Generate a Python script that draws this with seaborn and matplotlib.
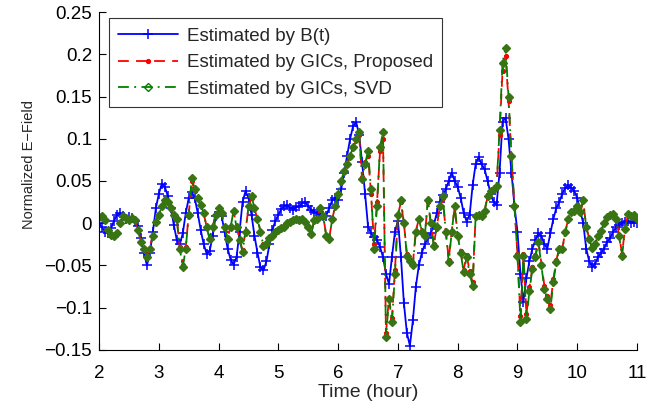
import numpy as np
import pandas as pd
import matplotlib
matplotlib.use("Agg")
import matplotlib.pyplot as plt
import seaborn as sns

# ---- data ----
time_hours = [round(2.0 + 0.05 * i, 2) for i in range(181)]

blue_bt = [
    0.000, -0.005, -0.010, -0.012, -0.006, 0.003, 0.010, 0.012, 0.008, 0.005,
    0.007, 0.006, 0.003, -0.003, -0.018, -0.035, -0.050, -0.035, -0.010, 0.018,
    0.035, 0.047, 0.043, 0.032, 0.018, -0.002, -0.020, -0.025, -0.012, 0.012,
    0.030, 0.037, 0.030, 0.012, -0.008, -0.025, -0.036, -0.033, -0.015, 0.008,
    0.013, 0.008, -0.010, -0.030, -0.043, -0.049, -0.040, -0.010, 0.025, 0.038,
    0.030, 0.010, -0.015, -0.035, -0.052, -0.056, -0.045, -0.025, -0.008, 0.003,
    0.010, 0.017, 0.020, 0.021, 0.018, 0.016, 0.019, 0.020, 0.024, 0.025,
    0.020, 0.016, 0.013, 0.012, 0.010, 0.008, 0.009, 0.018, 0.027, 0.030,
    0.028, 0.040, 0.060, 0.080, 0.100, 0.115, 0.120, 0.105, 0.072, 0.035,
    -0.004, -0.012, -0.016, -0.020, -0.028, -0.040, -0.060, -0.072, -0.040, -0.010,
    0.003, -0.040, -0.095, -0.130, -0.145, -0.115, -0.075, -0.050, -0.035, -0.025,
    -0.018, -0.012, -0.002, 0.012, 0.025, 0.033, 0.040, 0.050, 0.060, 0.050,
    0.043, 0.030, 0.012, 0.002, 0.010, 0.045, 0.070, 0.078, 0.070, 0.064,
    0.050, 0.035, 0.025, 0.022, 0.060, 0.120, 0.125, 0.100, 0.060, 0.020,
    -0.010, -0.060, -0.093, -0.065, -0.045, -0.030, -0.020, -0.012, -0.015, -0.025,
    -0.030, -0.012, 0.005, 0.018, 0.025, 0.035, 0.042, 0.045, 0.042, 0.038,
    0.030, 0.015, 0.000, -0.030, -0.045, -0.052, -0.048, -0.040, -0.035, -0.030,
    -0.022, -0.018, -0.010, -0.005, -0.002, 0.000, 0.002, 0.003, 0.000, 0.002,
    0.000,
]

green_svd = [
    0.007, 0.008, 0.004, -0.008, -0.014, -0.015, -0.012, 0.000, 0.008, 0.006,
    0.004, 0.006, 0.004, -0.008, -0.022, -0.030, -0.040, -0.030, -0.015, 0.002,
    0.010, 0.020, 0.028, 0.025, 0.018, 0.010, 0.005, -0.030, -0.052, -0.030,
    0.010, 0.054, 0.040, 0.030, 0.022, 0.012, -0.005, -0.019, -0.005, 0.010,
    0.018, 0.012, -0.005, -0.019, -0.005, 0.015, -0.005, -0.020, -0.034, -0.010,
    0.020, 0.032, 0.018, 0.005, -0.010, -0.027, -0.025, -0.018, -0.015, -0.010,
    -0.008, -0.006, -0.004, 0.000, 0.002, 0.004, 0.005, 0.004, 0.005, 0.002,
    -0.005, -0.013, 0.004, 0.005, 0.018, 0.008, -0.015, -0.019, 0.005, 0.020,
    0.035, 0.050, 0.062, 0.070, 0.080, 0.090, 0.100, 0.108, 0.052, 0.070,
    0.085, 0.040, -0.030, 0.020, 0.090, 0.108, -0.135, -0.090, -0.117, -0.060,
    0.010, 0.028, 0.000, -0.039, -0.045, -0.050, -0.010, 0.005, -0.010, -0.015,
    0.028, 0.000, -0.027, -0.005, 0.020, 0.032, -0.010, -0.046, -0.010, 0.020,
    -0.015, -0.035, -0.058, -0.040, -0.060, -0.074, 0.008, 0.010, 0.008, 0.015,
    0.032, 0.038, 0.040, 0.044, 0.110, 0.190, 0.208, 0.150, 0.080, 0.020,
    -0.039, -0.117, -0.039, -0.114, -0.080, -0.054, -0.040, -0.022, -0.050, -0.078,
    -0.090, -0.102, -0.070, -0.046, -0.030, -0.031, -0.011, 0.005, 0.013, 0.015,
    0.020, 0.013, 0.028, -0.005, -0.019, -0.029, -0.025, -0.015, -0.009, 0.000,
    0.007, 0.010, 0.011, 0.005, -0.015, -0.039, -0.007, 0.011, 0.008, 0.010,
    0.005,
]

red_proposed = [
    0.006, 0.007, 0.003, -0.007, -0.013, -0.014, -0.011, 0.001, 0.007, 0.006,
    0.004, 0.005, 0.003, -0.007, -0.021, -0.029, -0.038, -0.029, -0.014, 0.003,
    0.011, 0.020, 0.027, 0.024, 0.017, 0.009, 0.004, -0.028, -0.049, -0.028,
    0.011, 0.050, 0.038, 0.029, 0.021, 0.011, -0.004, -0.018, -0.004, 0.010,
    0.017, 0.011, -0.004, -0.018, -0.004, 0.014, -0.004, -0.019, -0.032, -0.009,
    0.019, 0.030, 0.017, 0.005, -0.009, -0.025, -0.023, -0.017, -0.014, -0.009,
    -0.007, -0.005, -0.003, 0.001, 0.003, 0.004, 0.005, 0.004, 0.005, 0.002,
    -0.004, -0.012, 0.004, 0.005, 0.017, 0.008, -0.014, -0.018, 0.005, 0.020,
    0.034, 0.049, 0.061, 0.069, 0.079, 0.089, 0.098, 0.104, 0.055, 0.072,
    0.080, 0.035, -0.025, 0.025, 0.085, 0.100, -0.130, -0.088, -0.112, -0.055,
    0.010, 0.025, 0.000, -0.036, -0.043, -0.047, -0.009, 0.005, -0.009, -0.014,
    0.025, 0.000, -0.025, -0.004, 0.019, 0.030, -0.009, -0.043, -0.009, 0.019,
    -0.014, -0.033, -0.055, -0.038, -0.057, -0.070, 0.008, 0.010, 0.008, 0.015,
    0.031, 0.037, 0.039, 0.043, 0.105, 0.180, 0.198, 0.145, 0.078, 0.019,
    -0.037, -0.110, -0.037, -0.108, -0.076, -0.052, -0.038, -0.021, -0.048, -0.074,
    -0.086, -0.097, -0.066, -0.044, -0.029, -0.030, -0.010, 0.005, 0.012, 0.014,
    0.019, 0.012, 0.026, -0.004, -0.018, -0.027, -0.024, -0.014, -0.008, 0.000,
    0.007, 0.009, 0.010, 0.005, -0.014, -0.036, -0.006, 0.010, 0.008, 0.009,
    0.005,
]

x_ticks = [2, 3, 4, 5, 6, 7, 8, 9, 10, 11]
y_ticks = [-0.15, -0.1, -0.05, 0, 0.05, 0.1, 0.15, 0.2, 0.25]
y_tick_labels = ["\u22120.15", "\u22120.1", "\u22120.05", "0", "0.05", "0.1", "0.15", "0.2", "0.25"]

sns.set_style("white")
plt.rcParams["font.family"] = ["Liberation Sans", "DejaVu Sans"]

fig = plt.figure(figsize=(6.52, 4.04), dpi=100)
ax = fig.add_axes([0.152, 0.134, 0.825, 0.836])

BLUE = (0, 0, 1)
RED = (1, 0, 0)
GREEN = (0.0, 0.5, 0.0)
GREEN_FACE = (0.22, 0.45, 0.08)

sns.lineplot(x=time_hours, y=blue_bt, ax=ax, sort=False, estimator=None,
             color=BLUE, linewidth=1.3, marker="+", markersize=7,
             markeredgewidth=1.1, markeredgecolor=BLUE, markerfacecolor=BLUE,
             label="Estimated by B(t)")
sns.lineplot(x=time_hours, y=red_proposed, ax=ax, sort=False, estimator=None,
             color=RED, linewidth=1.3, linestyle=(0, (6, 4)), marker=".",
             markersize=6, markeredgecolor=RED, markerfacecolor=RED,
             label="Estimated by GICs, Proposed")
sns.lineplot(x=time_hours, y=green_svd, ax=ax, sort=False, estimator=None,
             color=GREEN, linewidth=1.3, linestyle=(0, (6, 3, 1, 3)),
             marker="D", markersize=4.5, markerfacecolor=GREEN_FACE,
             markeredgecolor=GREEN_FACE, markeredgewidth=1.0,
             label="Estimated by GICs, SVD")

ax.set_xlim(2, 11)
ax.set_ylim(-0.15, 0.25)
ax.set_xticks(x_ticks)
ax.set_xticklabels([str(t) for t in x_ticks])
ax.set_yticks(y_ticks)
ax.set_yticklabels(y_tick_labels)
ax.tick_params(direction="in", length=5, width=0.8, labelsize=13.5, colors="black",
               left=True, bottom=True)
ax.tick_params(axis="x", pad=11)
ax.tick_params(axis="y", pad=5)
ax.set_xlabel("Time (hour)", fontsize=14, labelpad=1)
ax.set_ylabel("Normalized E\u2212Field", fontsize=10.5)
ax.yaxis.set_label_coords(-0.118, 0.55)
for s in ["top", "right"]:
    ax.spines[s].set_visible(False)
for s in ["left", "bottom"]:
    ax.spines[s].set_color("black")
    ax.spines[s].set_linewidth(0.8)

leg = ax.legend(loc="upper left", bbox_to_anchor=(0.0186, 0.982), bbox_transform=ax.transAxes,
                borderaxespad=0, fontsize=13.5,
                frameon=True, fancybox=False, edgecolor="black",
                borderpad=0.5, handlelength=3.2, labelspacing=0.5,
                handletextpad=0.45)
leg.get_frame().set_linewidth(0.8)
# SVD marker drawn hollow in the legend, as in the reference
leg.legend_handles[2].set_markerfacecolor("none")
leg.legend_handles[2].set_markeredgecolor(GREEN)

fig.savefig("out.png", dpi=100, facecolor="white")
